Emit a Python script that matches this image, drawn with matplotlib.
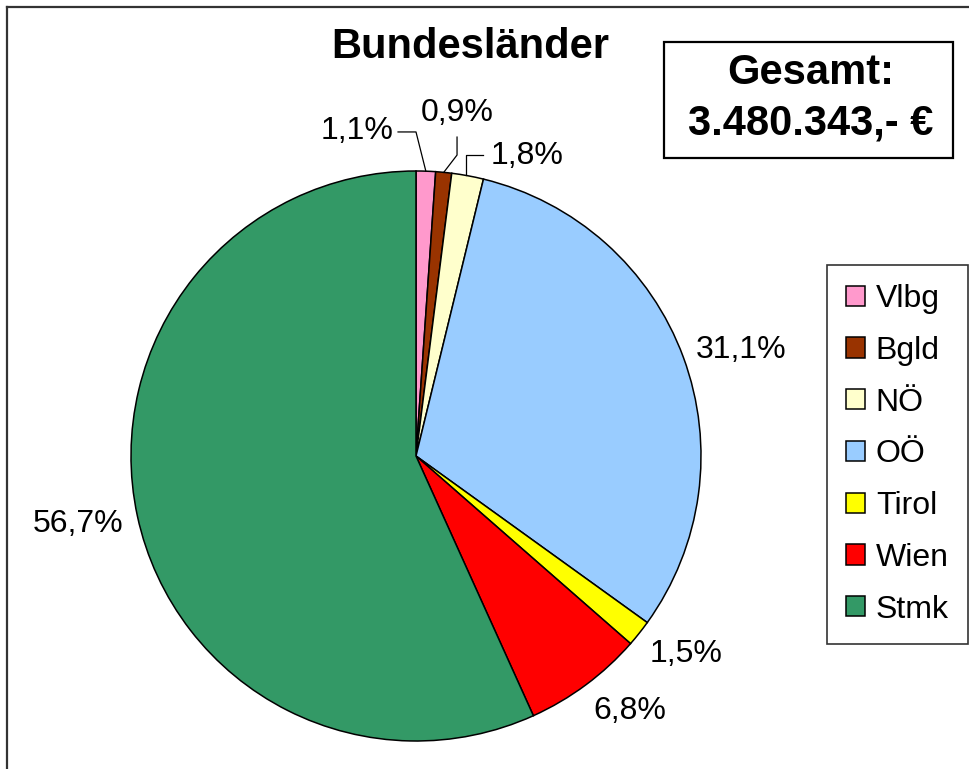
import matplotlib
matplotlib.use("Agg")
import matplotlib.pyplot as plt
from matplotlib.patches import Rectangle, Patch
from matplotlib.lines import Line2D
import numpy as np

plt.rcParams['font.family'] = ['Liberation Sans', 'DejaVu Sans']

# Shares per federal state (percent)
states = ["Vlbg", "Bgld", "NÖ", "OÖ", "Tirol", "Wien", "Stmk"]
shares = [1.1, 0.9, 1.8, 31.1, 1.5, 6.8, 56.7]
share_labels = ["1,1%", "0,9%", "1,8%", "31,1%", "1,5%", "6,8%", "56,7%"]
colors = ["#FF99CC", "#993300", "#FFFFCC", "#99CCFF", "#FFFF00", "#FF0000", "#339966"]
title = "Bundesländer"
total_text = "Gesamt:\n3.480.343,- €"

W, H = 970, 769
fig = plt.figure(figsize=(W / 100, H / 100), dpi=100)

# outer frame (top and left edges visible)
fig.add_artist(Line2D([7 / W, 1.0], [1 - 7 / H, 1 - 7 / H], transform=fig.transFigure,
                      color="#333333", lw=1.6))
fig.add_artist(Line2D([7 / W, 7 / W], [0.0, 1 - 7 / H], transform=fig.transFigure,
                      color="#333333", lw=1.6))

cx, cy, r = 416, 456, 285
ax = fig.add_axes([(cx - r) / W, (H - cy - r) / H, 2 * r / W, 2 * r / H])
wedges, _ = ax.pie(shares, colors=colors, startangle=90, counterclock=False, radius=1,
                   wedgeprops=dict(edgecolor="black", linewidth=1.1))
ax.set_xlim(-1, 1)
ax.set_ylim(-1, 1)
ax.set_aspect("equal")
ax.axis("off")

# label centres in axes data units (radius = 1)
label_pos = [(-0.207, 1.140), (0.144, 1.204), (0.390, 1.053), (1.140, 0.372),
             (0.947, -0.695), (0.751, -0.895), (-1.186, -0.239)]
for txt, (lx, ly) in zip(share_labels, label_pos):
    ax.text(lx, ly, txt, ha="center", va="center", fontsize=23, clip_on=False)

# leader lines for the three small top slices
mids = []
for w in wedges:
    a = np.deg2rad((w.theta1 + w.theta2) / 2)
    mids.append((np.cos(a), np.sin(a)))
leaders = [
    [(-0.063, 1.137), (0.0, 1.137), mids[0]],
    [(0.144, 1.119), (0.144, 1.056), mids[1]],
    [(0.235, 1.056), (0.175, 1.056), (0.175, np.sqrt(1 - 0.175 ** 2))],
]
for pts in leaders:
    xs, ys = zip(*pts)
    ax.plot(xs, ys, color="black", lw=0.9, clip_on=False)

fig.text(470 / W, 1 - 47 / H, title, ha="center", va="center", fontsize=30,
         fontweight="bold")

# total box
bx0, by0, bx1, by1 = 664, 42, 953, 158
fig.add_artist(Rectangle((bx0 / W, 1 - by1 / H), (bx1 - bx0) / W, (by1 - by0) / H,
                         transform=fig.transFigure, fill=False, edgecolor="black", lw=1.6))
fig.text(811 / W, 1 - 98 / H, total_text, ha="center", va="center", fontsize=30,
         fontweight="bold", linespacing=1.35)

handles = [Patch(facecolor=c, edgecolor="black", lw=1.1) for c in colors]
leg = fig.legend(handles, states, loc="upper left", bbox_to_anchor=(827 / W, 1 - 265 / H),
                 bbox_transform=fig.transFigure, fontsize=23, frameon=True, fancybox=False,
                 edgecolor="#333333", framealpha=1, borderaxespad=0, borderpad=0.6,
                 handlelength=0.6, handleheight=0.6, handletextpad=0.33, labelspacing=0.68)
leg.get_frame().set_linewidth(1.2)

fig.savefig("out.png", dpi=100)
